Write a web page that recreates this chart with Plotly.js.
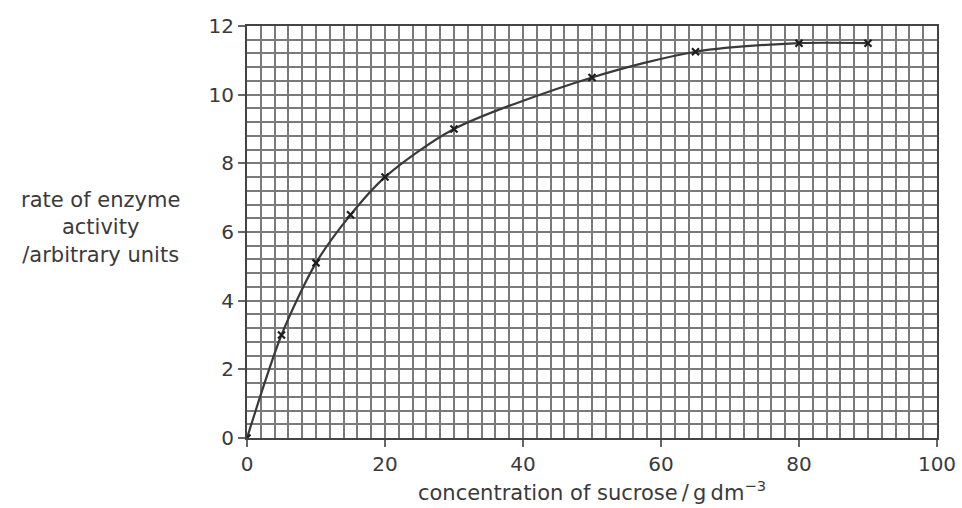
<!DOCTYPE html>
<html>
<head>
<meta charset="utf-8">
<script src="https://cdn.plot.ly/plotly-3.0.1.min.js"></script>
<style>
html,body{margin:0;padding:0;background:#fff;}
#chart{width:962px;height:508px;}
</style>
</head>
<body>
<div id="chart"></div>
<script>
const sucrose = [0, 5, 10, 15, 20, 30, 50, 65, 80, 90];
const rate = [0, 3.0, 5.1, 6.5, 7.6, 9.0, 10.5, 11.25, 11.5, 11.5];
const xTicks = [0, 20, 40, 60, 80, 100];
const yTicks = [0, 2, 4, 6, 8, 10, 12];
const yTitleLines = ["rate of enzyme", "activity", "/arbitrary units"];
const xTitle = "concentration of sucrose\u2009/\u2009g\u2009dm<sup>−3</sup>";

const gridCol = "#7a7a7a";
const fontFam = "DejaVu Sans, Liberation Sans, Arial, sans-serif";
const txtCol = "#3a3a3a";

const trace = {
  x: sucrose, y: rate,
  type: "scatter", mode: "lines+markers",
  line: {shape: "spline", smoothing: 0.8, color: "#3a3a3a", width: 2.2},
  marker: {symbol: "x-thin", size: 7, color: "#1e1e1e", line: {width: 2.2, color: "#1e1e1e"}},
  hoverinfo: "skip"
};

const layout = {
  width: 962, height: 508,
  margin: {l: 247, r: 25, t: 26, b: 70},
  paper_bgcolor: "#fff", plot_bgcolor: "#fff",
  showlegend: false,
  font: {family: fontFam, color: txtCol, size: 20},
  xaxis: {
    range: [0, 100], tickvals: xTicks, ticktext: xTicks.map(String),
    ticks: "outside", ticklen: 7, tickcolor: "#666", tickwidth: 2,
    showline: true, linecolor: "#444", linewidth: 2, mirror: true,
    showgrid: true, gridcolor: gridCol, gridwidth: 2,
    minor: {dtick: 2, showgrid: true, gridcolor: gridCol, gridwidth: 2},
    zeroline: false, fixedrange: true,
    tickfont: {size: 20, color: txtCol, family: fontFam},
    title: {text: xTitle, font: {size: 21, color: txtCol, family: fontFam}, standoff: 10}
  },
  yaxis: {
    range: [0, 12], tickvals: yTicks, ticktext: yTicks.map(String),
    ticks: "outside", ticklen: 7, tickcolor: "#666", tickwidth: 2,
    showline: true, linecolor: "#444", linewidth: 2, mirror: true,
    showgrid: true, gridcolor: gridCol, gridwidth: 2,
    minor: {dtick: 0.4, showgrid: true, gridcolor: gridCol, gridwidth: 2},
    zeroline: false, fixedrange: true,
    tickfont: {size: 20, color: txtCol, family: fontFam}
  },
  annotations: [{
    text: yTitleLines.join("<br>"),
    xref: "paper", yref: "paper",
    x: -0.213, y: 0.51, xanchor: "center", yanchor: "middle",
    showarrow: false, align: "center",
    font: {size: 21, color: txtCol, family: fontFam}
  }]
};

Plotly.newPlot("chart", [trace], layout, {displayModeBar: false, staticPlot: true});
</script>
</body>
</html>
